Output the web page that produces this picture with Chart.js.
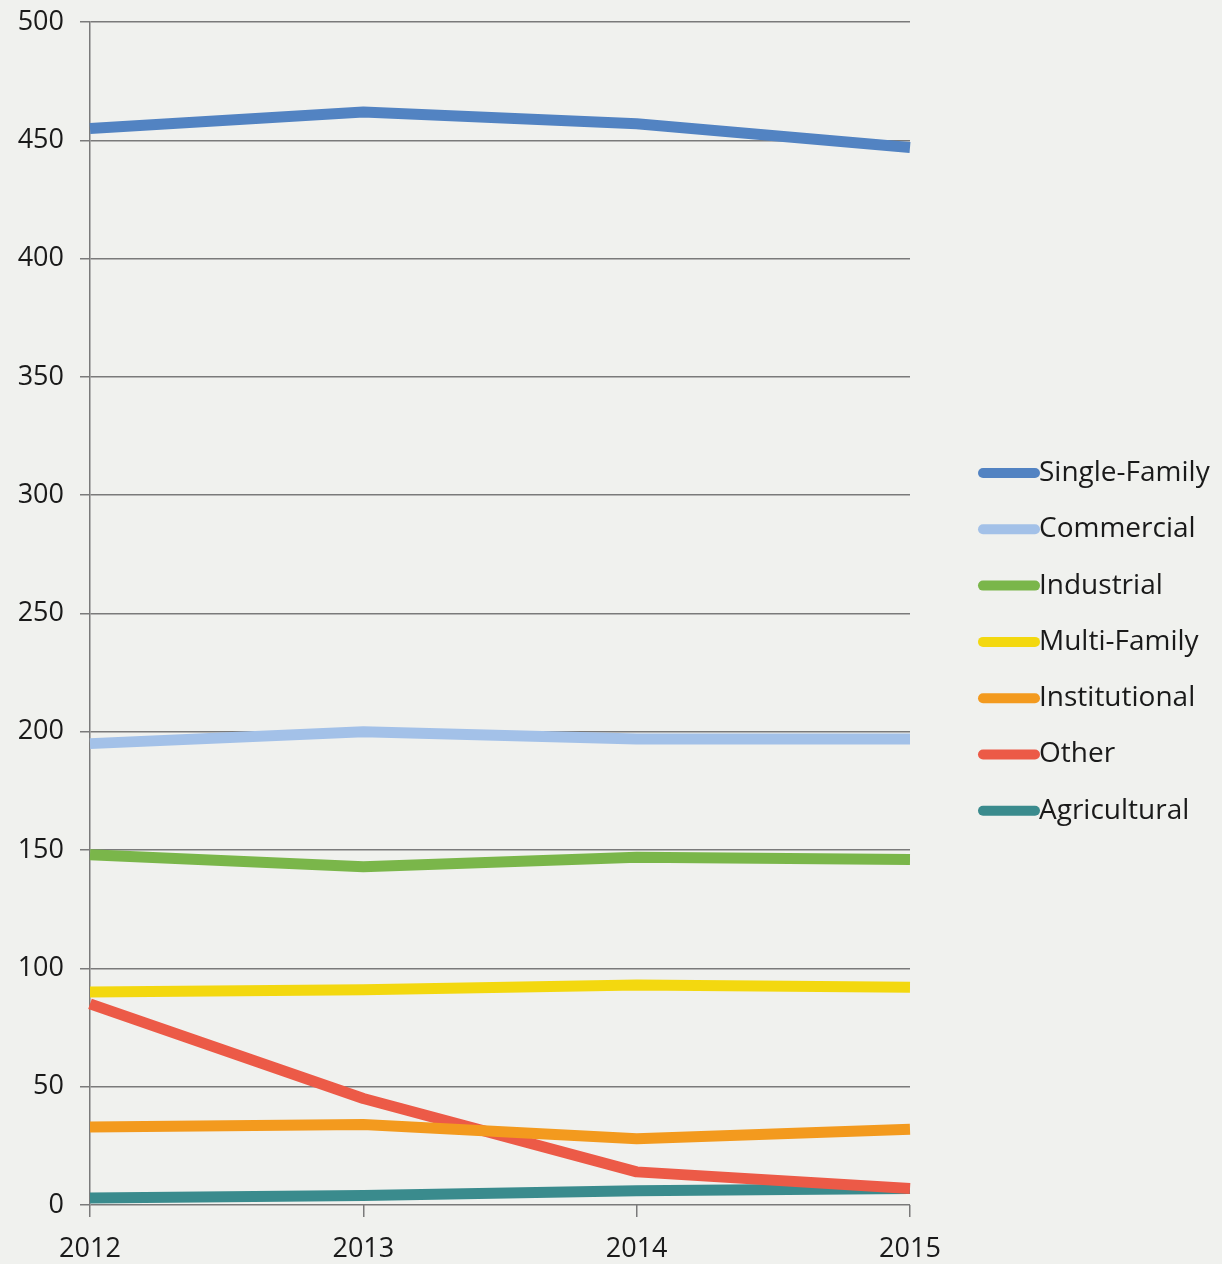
<!DOCTYPE html>
<html>
<head>
<meta charset="utf-8">
<script src="https://cdn.jsdelivr.net/npm/chart.js@4/dist/chart.umd.min.js"></script>
<style>
  html, body { margin: 0; padding: 0; background: #f0f1ee; }
  #wrap { width: 1222px; height: 1264px; position: relative; }
</style>
</head>
<body>
<div id="wrap"><canvas id="c" width="1222" height="1264"></canvas></div>
<script>
const years = ['2012', '2013', '2014', '2015'];
const singleFamily = [455, 462, 457, 447];
const commercial   = [195, 200, 197, 197];
const industrial   = [148, 143, 147, 146];
const multiFamily  = [90, 91, 93, 92];
const institutional = [33, 34, 28, 32];
const other        = [85, 45, 14, 7];
const agricultural = [3, 4, 6, 7];
const yTicks = [0, 50, 100, 150, 200, 250, 300, 350, 400, 450, 500];

const seriesNames = ['Single-Family', 'Commercial', 'Industrial', 'Multi-Family', 'Institutional', 'Other', 'Agricultural'];
const seriesData = [singleFamily, commercial, industrial, multiFamily, institutional, other, agricultural];
const seriesColors = ['#5283c2', '#a3c1e8', '#7ab64a', '#f3d80f', '#f39a1e', '#ec5a47', '#3a8b8d'];

const FONT = "'Open Sans', 'Noto Sans', sans-serif";

const legendPlugin = {
  id: 'sideLegend',
  afterDraw(chart, args, opts) {
    const ctx = chart.ctx;
    ctx.save();
    chart.data.datasets.forEach((ds, i) => {
      const y = opts.y0 + i * opts.step;
      ctx.strokeStyle = ds.borderColor;
      ctx.lineWidth = 10;
      ctx.lineCap = 'round';
      ctx.beginPath();
      ctx.moveTo(opts.x0, y);
      ctx.lineTo(opts.x0 + opts.len, y);
      ctx.stroke();
      ctx.fillStyle = '#1a1a1a';
      ctx.font = opts.fontSize + 'px ' + FONT;
      ctx.textBaseline = 'middle';
      ctx.textAlign = 'left';
      ctx.fillText(ds.label, opts.x0 + opts.len + 4, y);
    });
    ctx.restore();
  }
};

const bgPlugin = {
  id: 'bg',
  beforeDraw(chart) {
    const ctx = chart.ctx;
    ctx.save();
    ctx.fillStyle = '#f0f1ee';
    ctx.fillRect(0, 0, chart.width, chart.height);
    ctx.restore();
  }
};

new Chart(document.getElementById('c'), {
  type: 'line',
  data: {
    labels: years,
    datasets: seriesNames.map((n, i) => ({
      label: n,
      data: seriesData[i],
      borderColor: seriesColors[i],
      backgroundColor: seriesColors[i],
      borderWidth: 11,
      pointRadius: 0,
      tension: 0,
      borderJoinStyle: 'round',
      fill: false
    }))
  },
  options: {
    responsive: false,
    animation: false,
    layout: { padding: { top: 22, right: 312, bottom: 0, left: 0 } },
    plugins: {
      legend: { display: false },
      tooltip: { enabled: false },
      sideLegend: { x0: 983, len: 52, y0: 473, step: 56.3, fontSize: 28 }
    },
    scales: {
      x: {
        offset: false,
        grid: { display: true, drawOnChartArea: false, color: '#7a7a7a', tickLength: 12, lineWidth: 1.5 },
        border: { display: false },
        ticks: { color: '#1a1a1a', font: { family: FONT, size: 27 }, padding: 16, maxRotation: 0, autoSkip: false },
        afterFit(scale) { scale.height = 59; }
      },
      y: {
        min: 0, max: 500,
        afterBuildTicks(scale) { scale.ticks = yTicks.map(v => ({ value: v })); },
        grid: { color: '#7a7a7a', lineWidth: 1.5, tickLength: 10 },
        border: { display: true, color: '#7a7a7a', width: 1.5 },
        ticks: { color: '#1a1a1a', font: { family: FONT, size: 27 }, padding: 16 },
        afterFit(scale) { scale.width = 90; scale.paddingTop = 0; scale.paddingBottom = 0; }
      }
    }
  },
  plugins: [bgPlugin, legendPlugin]
});
</script>
</body>
</html>
